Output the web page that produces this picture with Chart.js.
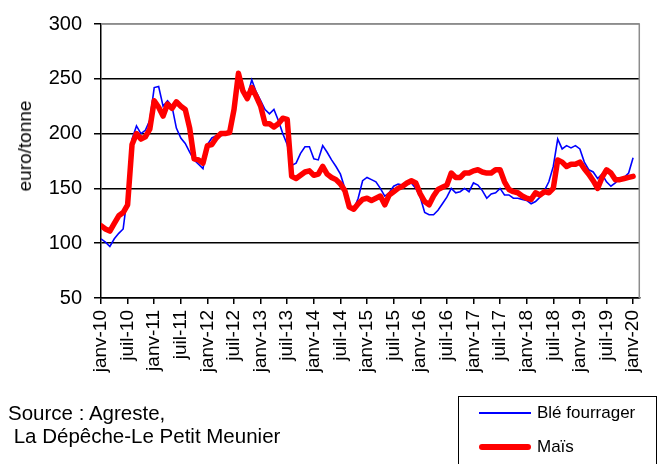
<!DOCTYPE html>
<html lang="fr">
<head>
<meta charset="UTF-8">
<title>Prix blé fourrager et maïs</title>
<script src="https://cdn.jsdelivr.net/npm/chart.js"></script>
<style>
    * { margin: 0; padding: 0; box-sizing: border-box; }
    body {
        width: 662px;
        height: 464px;
        background: #fff;
        font-family: 'Liberation Sans', Arial, sans-serif;
        color: #000;
        position: relative;
        overflow: hidden;
    }
    #chart { position: absolute; left: 0; top: 0; }
    .ytitle {
        position: absolute;
        left: 25px;
        top: 146px;
        font-size: 19px;
        white-space: nowrap;
        transform: translate(-50%, -50%) rotate(-90deg);
    }
    .source {
        position: absolute;
        left: 8px;
        top: 401px;
        font-size: 20.5px;
        line-height: 23px;
        white-space: pre;
    }
    .legend {
        position: absolute;
        left: 458px;
        top: 396px;
        width: 199px;
        height: 80px;
        border: 1.5px solid #000;
    }
    .legend .item {
        position: absolute;
        left: 20px;
        height: 20px;
        display: flex;
        align-items: center;
        font-size: 17px;
        white-space: nowrap;
    }
    .legend .swatch { width: 52px; margin-right: 6px; }
    .legend .ble { top: 6px; }
    .legend .ble .swatch { height: 1.5px; background: #0000ff; }
    .legend .mais { top: 40px; }
    .legend .mais .swatch { height: 5.5px; border-radius: 3px; background: #ff0000; }
</style>
</head>
<body>
<canvas id="chart" width="662" height="464"></canvas>
<div class="ytitle">euro/tonne</div>
<div class="source">Source : Agreste,
 La Dépêche-Le Petit Meunier</div>
<div class="legend">
    <div class="item ble"><span class="swatch"></span>Blé fourrager</div>
    <div class="item mais"><span class="swatch"></span>Maïs</div>
</div>

<script>
// tick labels, one every 6 months from janv-10 to janv-20
const tickLabels = ['janv-10', 'juil-10', 'janv-11', 'juil-11', 'janv-12', 'juil-12', 'janv-13',
    'juil-13', 'janv-14', 'juil-14', 'janv-15', 'juil-15', 'janv-16', 'juil-16', 'janv-17',
    'juil-17', 'janv-18', 'juil-18', 'janv-19', 'juil-19', 'janv-20'];

// monthly prices (euro/tonne), janv-10 .. janv-20
const bleValues = [
    104, 101, 97, 104, 109, 113, 145, 195, 207, 200,
    203, 212, 242, 243, 225, 230, 225, 205, 196, 191,
    183, 176, 172, 168, 190, 196, 198, 198, 199, 201,
    222, 250, 237, 234, 249, 238, 230, 222, 218, 222,
    212, 200, 190, 171, 173, 182, 188, 188, 177, 176,
    189, 183, 176, 170, 163, 150, 135, 131, 141, 157,
    160, 158, 156, 150, 143, 146, 152, 154, 153, 154,
    155, 150, 142, 128, 126, 126, 130, 136, 142, 150,
    146, 147, 150, 147, 155, 153, 148, 141, 145, 146,
    150, 144, 144, 141, 141, 140, 139, 136, 138, 142,
    148, 156, 170, 195, 186, 189, 187, 189, 186, 174,
    167, 165, 159, 163, 156, 152, 155, 159, 160, 164,
    178
];
const maisValues = [
    116, 113, 111, 118, 125, 128, 135, 190, 200, 195,
    197, 204, 230, 224, 216, 227, 223, 229, 225, 222,
    205, 177, 176, 173, 189, 190, 196, 200, 200, 201,
    222, 255, 239, 232, 242, 234, 225, 209, 209, 206,
    209, 214, 213, 161, 159, 162, 165, 166, 162, 163,
    170, 163, 160, 158, 154, 148, 133, 131, 136, 140,
    141, 139, 141, 143, 135, 144, 147, 150, 152, 155,
    157, 155, 145, 138, 135, 143, 149, 151, 153, 164,
    160, 160, 164, 164, 166, 167, 165, 164, 164, 167,
    167, 156, 149, 147, 146, 143, 141, 140, 146, 144,
    147, 146, 150, 176, 174, 170, 172, 172, 174, 168,
    163, 157, 150, 160, 167, 164, 158, 158, 159, 160,
    161
];

const fontFamily = "'Liberation Sans', Arial, sans-serif";

// grey frame on top and right of the plot area
const framePlugin = {
    id: 'frame',
    afterDraw(chart) {
        const { ctx, chartArea: a } = chart;
        ctx.save();
        ctx.strokeStyle = '#8c8c8c';
        ctx.lineWidth = 1.5;
        ctx.beginPath();
        ctx.moveTo(a.left, a.top);
        ctx.lineTo(a.right, a.top);
        ctx.lineTo(a.right, a.bottom);
        ctx.stroke();
        ctx.restore();
    }
};

new Chart(document.getElementById('chart'), {
    type: 'line',
    data: {
        datasets: [
            {
                label: 'Blé fourrager',
                data: bleValues.map((v, i) => ({ x: i, y: v })),
                borderColor: '#0000ff',
                borderWidth: 1.6,
                pointRadius: 0,
                tension: 0,
                order: 1
            },
            {
                label: 'Maïs',
                data: maisValues.map((v, i) => ({ x: i, y: v })),
                borderColor: '#ff0000',
                borderWidth: 5.5,
                borderCapStyle: 'round',
                borderJoinStyle: 'round',
                pointRadius: 0,
                tension: 0,
                order: 0
            }
        ]
    },
    options: {
        responsive: false,
        animation: false,
        events: [],
        layout: { padding: { top: 21, right: 10, left: 0, bottom: 0 } },
        plugins: {
            legend: { display: false },
            tooltip: { enabled: false }
        },
        scales: {
            x: {
                type: 'linear',
                min: 0,
                max: 121.4,
                afterBuildTicks: (scale) => {
                    scale.ticks = tickLabels.map((t, k) => ({ value: k * 6 }));
                },
                afterFit: (scale) => { scale.height = 166; },
                grid: {
                    drawOnChartArea: false,
                    drawTicks: true,
                    tickLength: 6,
                    color: '#000',
                    lineWidth: 1.5
                },
                border: { color: '#000', width: 1.5 },
                ticks: {
                    autoSkip: false,
                    maxRotation: 90,
                    minRotation: 90,
                    padding: 6,
                    color: '#000',
                    font: { family: fontFamily, size: 19 },
                    callback: (value, index) => tickLabels[index]
                }
            },
            y: {
                min: 50,
                max: 300,
                afterFit: (scale) => { scale.width = 101; },
                grid: {
                    color: (ctx) => (ctx.tick && ctx.tick.value === 300 ? '#8c8c8c' : '#000'),
                    lineWidth: 1.5,
                    tickLength: 7,
                    tickColor: '#000'
                },
                border: { color: '#000', width: 1.5 },
                ticks: {
                    stepSize: 50,
                    padding: 12,
                    color: '#000',
                    font: { family: fontFamily, size: 20 }
                }
            }
        }
    },
    plugins: [framePlugin]
});
</script>
</body>
</html>
